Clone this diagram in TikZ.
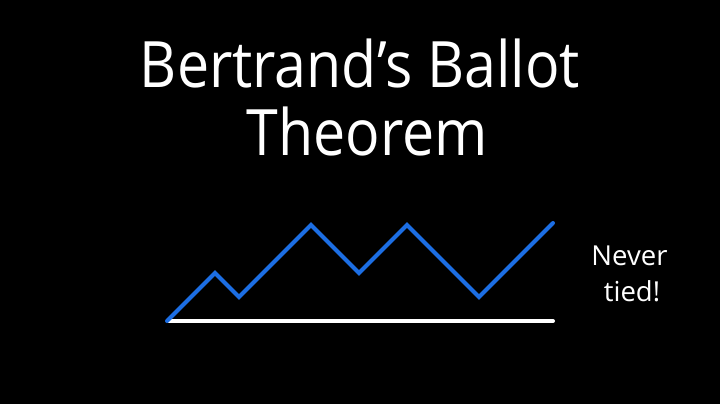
\documentclass[tikz,border=0pt]{standalone}
\usepackage{fontspec}
\setmainfont{Open Sans}
\definecolor{pathblue}{RGB}{28,110,228}
\begin{document}
\begin{tikzpicture}[x=1pt,y=-1pt,
  titletext/.style={text=white,font=\fontsize{64}{70}\selectfont,anchor=base,inner sep=0pt},
  notetext/.style={text=white,font=\fontsize{27.5}{30}\selectfont,anchor=base,inner sep=0pt},
  walk/.style={draw=pathblue,line width=4pt,line join=miter,line cap=round},
  axis/.style={draw=white,line width=4pt,line cap=round}]
\fill[black] (0,0) rectangle (720,404);
\useasboundingbox (0,0) rectangle (720,404);
\node[titletext] (t1) at (360,87) {\scalebox{0.895}[1]{Bertrand’s Ballot}};
\node[titletext] (t2) at (367.5,155) {\scalebox{0.895}[1]{Theorem}};
\node[notetext] (n1) at (629.5,265) {Never};
\node[notetext] (n2) at (632,301.5) {tied!};
\coordinate (p0) at (167,321);
\coordinate (p1) at (215,273);
\coordinate (p2) at (239,297);
\coordinate (p3) at (311,225);
\coordinate (p4) at (359,273);
\coordinate (p5) at (407,225);
\coordinate (p6) at (479,297);
\coordinate (p7) at (553,223);
\coordinate (a0) at (169,321);
\coordinate (a1) at (553,321);
\draw[axis] (a0) -- (a1);
\draw[walk] (p0) -- (p1) -- (p2) -- (p3) -- (p4) -- (p5) -- (p6) -- (p7);
\end{tikzpicture}
\end{document}
